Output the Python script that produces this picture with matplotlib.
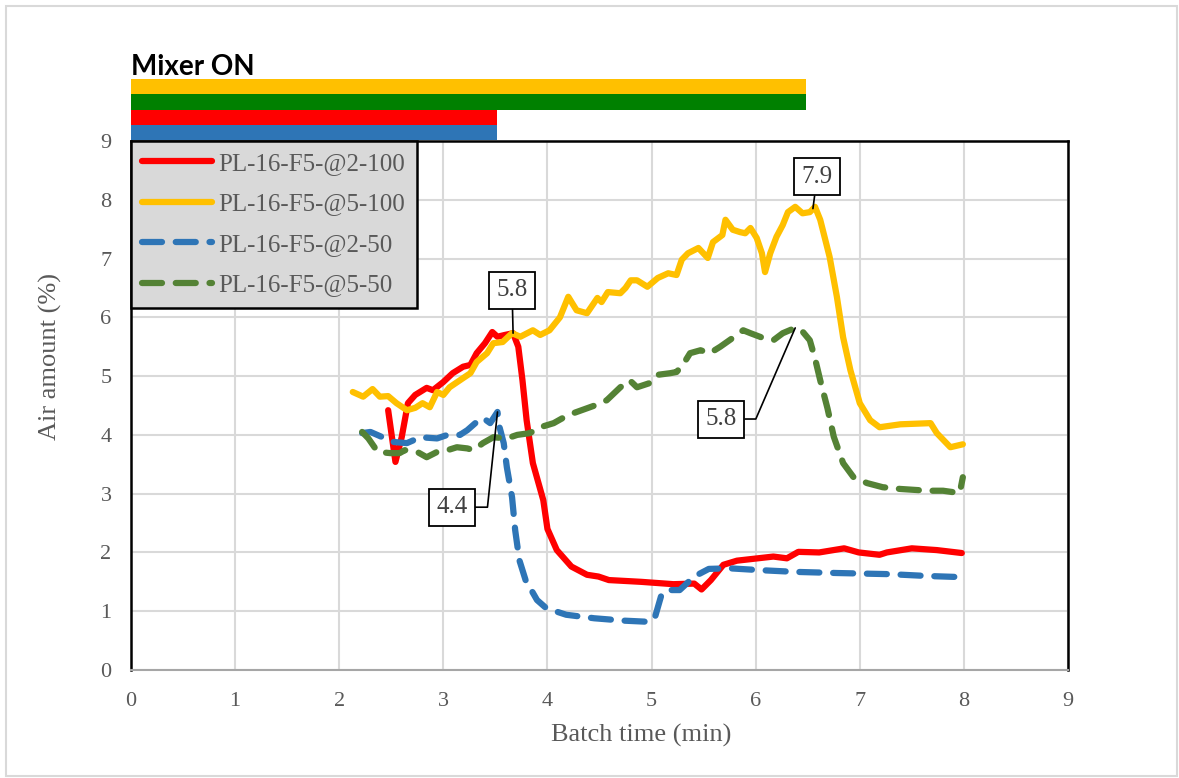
import matplotlib.pyplot as plt
from matplotlib.patches import Rectangle

x_2_100 = [2.47, 2.54, 2.60, 2.66, 2.73, 2.84, 2.90, 3.00, 3.09, 3.19, 3.26, 3.32, 3.40, 3.47,
           3.52, 3.59, 3.67, 3.72, 3.76, 3.80, 3.86, 3.96, 4.00, 4.09, 4.23, 4.38, 4.49, 4.59,
           4.90, 5.21, 5.41, 5.48, 5.57, 5.69, 5.82, 6.17, 6.30, 6.41, 6.61, 6.85, 6.99, 7.19,
           7.26, 7.50, 7.74, 7.98]
y_2_100 = [4.42, 3.54, 3.96, 4.54, 4.68, 4.80, 4.76, 4.90, 5.05, 5.16, 5.19, 5.39, 5.56, 5.75,
           5.67, 5.70, 5.73, 5.50, 4.93, 4.25, 3.52, 2.89, 2.40, 2.04, 1.76, 1.62, 1.59, 1.53,
           1.50, 1.46, 1.47, 1.37, 1.53, 1.79, 1.86, 1.93, 1.90, 2.01, 2.00, 2.07, 2.00, 1.96,
           2.00, 2.07, 2.04, 1.99]

x_5_100 = [2.13, 2.23, 2.32, 2.39, 2.47, 2.55, 2.65, 2.73, 2.80, 2.87, 2.94, 3.00, 3.06, 3.16,
           3.26, 3.32, 3.42, 3.48, 3.57, 3.66, 3.74, 3.86, 3.93, 4.02, 4.12, 4.20, 4.28, 4.38,
           4.48, 4.52, 4.58, 4.70, 4.75, 4.80, 4.86, 4.96, 5.06, 5.16, 5.24, 5.29, 5.35, 5.45,
           5.54, 5.59, 5.68, 5.71, 5.78, 5.85, 5.90, 5.95, 6.01, 6.06, 6.09, 6.14, 6.20, 6.26,
           6.31, 6.38, 6.45, 6.52, 6.57, 6.62, 6.71, 6.78, 6.84, 6.91, 7.00, 7.10, 7.19, 7.39,
           7.68, 7.74, 7.87, 7.99]
y_5_100 = [4.73, 4.65, 4.78, 4.65, 4.66, 4.54, 4.42, 4.46, 4.54, 4.47, 4.73, 4.68, 4.81, 4.93,
           5.05, 5.24, 5.39, 5.56, 5.58, 5.73, 5.67, 5.78, 5.70, 5.78, 6.00, 6.35, 6.12, 6.07,
           6.33, 6.26, 6.43, 6.41, 6.50, 6.63, 6.63, 6.52, 6.67, 6.75, 6.72, 6.98, 7.09, 7.18,
           7.01, 7.28, 7.40, 7.66, 7.49, 7.45, 7.43, 7.52, 7.35, 7.09, 6.77, 7.09, 7.37, 7.57,
           7.79, 7.88, 7.77, 7.79, 7.88, 7.66, 7.03, 6.35, 5.66, 5.10, 4.54, 4.25, 4.13, 4.18,
           4.20, 4.03, 3.79, 3.84]

x_2_50 = [2.22, 2.30, 2.52, 2.65, 2.78, 2.94, 3.04, 3.16, 3.23, 3.32, 3.38, 3.45, 3.52, 3.54,
          3.58, 3.61, 3.66, 3.69, 3.73, 3.79, 3.90, 3.99, 4.18, 4.45, 4.73, 4.97, 5.03, 5.10,
          5.19, 5.27, 5.41, 5.55, 5.75, 6.03, 6.37, 6.78, 7.30, 7.64, 7.98]
y_2_50 = [4.03, 4.05, 3.88, 3.86, 3.96, 3.94, 4.00, 4.00, 4.08, 4.22, 4.29, 4.20, 4.39, 4.13,
          3.86, 3.45, 2.94, 2.38, 1.87, 1.53, 1.19, 1.05, 0.94, 0.88, 0.84, 0.82, 0.88, 1.31,
          1.36, 1.36, 1.59, 1.72, 1.73, 1.70, 1.67, 1.65, 1.63, 1.60, 1.58]

x_5_50 = [2.22, 2.28, 2.37, 2.49, 2.58, 2.63, 2.75, 2.84, 2.94, 3.04, 3.13, 3.23, 3.29, 3.38,
          3.48, 3.61, 3.71, 3.83, 3.93, 4.06, 4.15, 4.25, 4.36, 4.47, 4.57, 4.70, 4.79, 4.86,
          4.98, 5.05, 5.18, 5.24, 5.30, 5.37, 5.47, 5.56, 5.66, 5.78, 5.88, 5.95, 6.07, 6.17,
          6.26, 6.38, 6.44, 6.52, 6.57, 6.62, 6.69, 6.75, 6.84, 6.94, 7.07, 7.22, 7.39, 7.65,
          7.80, 7.96, 7.99]
y_5_50 = [4.05, 3.94, 3.71, 3.69, 3.69, 3.74, 3.71, 3.62, 3.71, 3.74, 3.79, 3.77, 3.74, 3.86,
          3.96, 3.94, 4.00, 4.03, 4.13, 4.20, 4.29, 4.37, 4.44, 4.51, 4.59, 4.81, 4.93, 4.81,
          4.88, 5.02, 5.05, 5.07, 5.19, 5.39, 5.44, 5.39, 5.50, 5.65, 5.78, 5.73, 5.65, 5.61,
          5.73, 5.82, 5.78, 5.61, 5.30, 4.93, 4.45, 3.97, 3.52, 3.28, 3.18, 3.11, 3.08, 3.05,
          3.05, 3.01, 3.28]

# mixer-on duration bars (top to bottom)
mixer_colors = ["#FFC000", "#008000", "#FF0000", "#2E75B6"]
mixer_end = [6.48, 6.48, 3.52, 3.52]

# peak call-outs: label, point, box centre, leader elbow angle (None = straight)
peak_labels = ["5.8", "7.9", "4.4", "5.8"]
peak_xy = [(3.67, 5.73), (6.55, 7.85), (3.52, 4.39), (6.38, 5.82)]
peak_box = [(3.66, 6.46), (6.59, 8.39), (3.08, 2.77), (5.67, 4.27)]
peak_elbow = [None, None, 84, 66.6]

grey = "#595959"
serif = "Liberation Serif"

fig = plt.figure(figsize=(11.79, 7.78), dpi=100)
fig.patches.append(Rectangle((6 / 1179, 2 / 778), 1171 / 1179, 770 / 778,
                             transform=fig.transFigure, fill=False,
                             edgecolor="#D9D9D9", lw=1.5))

ax = fig.add_axes([131 / 1179, 108 / 778, 937 / 1179, 529 / 778])

lw = 4.5
ax.plot(x_2_100, y_2_100, color="#FF0000", lw=lw, solid_capstyle="round",
        solid_joinstyle="round", label="PL-16-F5-@2-100", zorder=3)
ax.plot(x_5_100, y_5_100, color="#FFC000", lw=lw, solid_capstyle="round",
        solid_joinstyle="round", label="PL-16-F5-@5-100", zorder=3)
ax.plot(x_2_50, y_2_50, color="#2E75B6", lw=lw, dashes=(3.2, 2.2), dash_capstyle="round",
        dash_joinstyle="round", label="PL-16-F5-@2-50", zorder=3)
ax.plot(x_5_50, y_5_50, color="#548235", lw=lw, dashes=(3.2, 2.2), dash_capstyle="round",
        dash_joinstyle="round", label="PL-16-F5-@5-50", zorder=3)

ax.set_xlim(0, 9)
ax.set_ylim(0, 9)
ax.set_xticks(range(10))
ax.set_yticks(range(10))
ax.grid(True, color="#D9D9D9", lw=1.5, zorder=0)
ax.set_axisbelow(True)
ax.tick_params(length=0, labelsize=16, labelcolor=grey)
ax.tick_params(axis="x", pad=16)
ax.tick_params(axis="y", pad=14)
for lab in ax.get_xticklabels() + ax.get_yticklabels():
    lab.set_fontfamily(serif)
for side in ["left", "top", "right"]:
    ax.spines[side].set_color("black")
    ax.spines[side].set_linewidth(1.8)
ax.spines["bottom"].set_color("#A6A6A6")
ax.spines["bottom"].set_linewidth(1.5)

ax.set_xlabel("Batch time (min)", fontsize=19, color=grey, family=serif, va="center")
ax.set_ylabel("Air amount (%)", fontsize=19, color=grey, family=serif, va="center")
ax.xaxis.set_label_coords(0.544, -0.123)
ax.yaxis.set_label_coords(-0.086, 0.592)

leg = ax.legend(loc="upper left", bbox_to_anchor=(0, 1), borderaxespad=0,
                prop={"family": serif, "size": 18}, labelcolor=grey,
                facecolor="#D9D9D9", edgecolor="black", framealpha=1, fancybox=False,
                handlelength=2.8, handletextpad=0.25, labelspacing=0.72,
                borderpad=0.45)
leg.get_frame().set_linewidth(1.8)
leg.set_zorder(5)

for lab, xy, box, elbow in zip(peak_labels, peak_xy, peak_box, peak_elbow):
    props = dict(arrowstyle="-", color="black", lw=1.2, shrinkA=0, shrinkB=0)
    if elbow is not None:
        props.update(relpos=(1, 0.5),
                     connectionstyle=f"angle,angleA=0,angleB={elbow},rad=0")
    ax.annotate(lab, xy=xy, xytext=box, ha="center", va="center", fontsize=18,
                family=serif, color="#404040", zorder=6,
                bbox=dict(boxstyle="square,pad=0.3", fc="white", ec="black", lw=1.3),
                arrowprops=props)

# mixer-on bars above the plot
bx = fig.add_axes([131 / 1179, 638 / 778, 937 / 1179, 61 / 778])
bx.barh(range(len(mixer_end)), mixer_end, height=1.0, color=mixer_colors, left=0)
bx.set_xlim(0, 9)
bx.set_ylim(len(mixer_end) - 0.5, -0.5)
bx.axis("off")

fig.text(131 / 1179, 1 - 75 / 778, "Mixer ON", family="Lato", weight="bold",
         fontsize=20, color="black", va="baseline", ha="left")

fig.savefig("out.png", dpi=100)
